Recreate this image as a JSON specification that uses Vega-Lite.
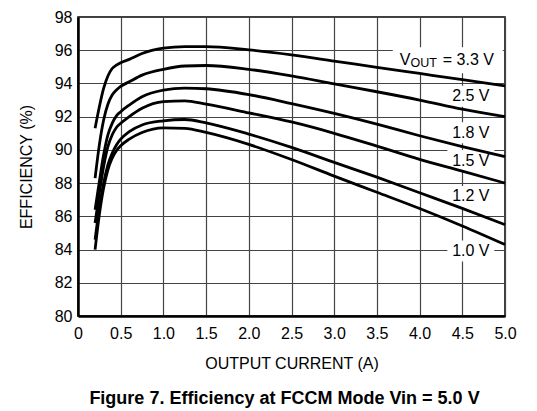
{
  "$schema": "https://vega.github.io/schema/vega-lite/v6.json",
  "description": "Efficiency vs output current, FCCM mode, Vin = 5.0 V",
  "autosize": "none",
  "width": 427,
  "height": 299,
  "padding": {"left": 78, "top": 17, "right": 32, "bottom": 95},
  "title": {
    "text": "Figure 7. Efficiency at FCCM Mode Vin = 5.0 V",
    "orient": "bottom",
    "anchor": "middle",
    "fontSize": 18,
    "fontWeight": "bold",
    "offset": 19,
    "dx": -7,
    "color": "black"
  },
  "datasets": {
    "curves": [
      {"vout": "3.3", "current": 0.2, "eff": 91.3},
      {"vout": "3.3", "current": 0.25, "eff": 92.6},
      {"vout": "3.3", "current": 0.3, "eff": 93.7},
      {"vout": "3.3", "current": 0.35, "eff": 94.45},
      {"vout": "3.3", "current": 0.4, "eff": 94.9},
      {"vout": "3.3", "current": 0.45, "eff": 95.1},
      {"vout": "3.3", "current": 0.5, "eff": 95.25},
      {"vout": "3.3", "current": 0.6, "eff": 95.45},
      {"vout": "3.3", "current": 0.75, "eff": 95.8},
      {"vout": "3.3", "current": 1.0, "eff": 96.12},
      {"vout": "3.3", "current": 1.25, "eff": 96.22},
      {"vout": "3.3", "current": 1.5, "eff": 96.22},
      {"vout": "3.3", "current": 2.0, "eff": 96.02},
      {"vout": "3.3", "current": 2.5, "eff": 95.72},
      {"vout": "3.3", "current": 3.0, "eff": 95.35},
      {"vout": "3.3", "current": 3.5, "eff": 94.97},
      {"vout": "3.3", "current": 4.0, "eff": 94.6},
      {"vout": "3.3", "current": 4.5, "eff": 94.23},
      {"vout": "3.3", "current": 5.0, "eff": 93.85},

      {"vout": "2.5", "current": 0.2, "eff": 88.3},
      {"vout": "2.5", "current": 0.25, "eff": 90.3},
      {"vout": "2.5", "current": 0.3, "eff": 91.8},
      {"vout": "2.5", "current": 0.35, "eff": 92.75},
      {"vout": "2.5", "current": 0.4, "eff": 93.3},
      {"vout": "2.5", "current": 0.45, "eff": 93.6},
      {"vout": "2.5", "current": 0.5, "eff": 93.82},
      {"vout": "2.5", "current": 0.6, "eff": 94.1},
      {"vout": "2.5", "current": 0.75, "eff": 94.5},
      {"vout": "2.5", "current": 1.0, "eff": 94.85},
      {"vout": "2.5", "current": 1.25, "eff": 95.05},
      {"vout": "2.5", "current": 1.5, "eff": 95.08},
      {"vout": "2.5", "current": 2.0, "eff": 94.85},
      {"vout": "2.5", "current": 2.5, "eff": 94.45},
      {"vout": "2.5", "current": 3.0, "eff": 93.97},
      {"vout": "2.5", "current": 3.5, "eff": 93.5},
      {"vout": "2.5", "current": 4.0, "eff": 93.0},
      {"vout": "2.5", "current": 4.5, "eff": 92.45},
      {"vout": "2.5", "current": 5.0, "eff": 92.0},

      {"vout": "1.8", "current": 0.2, "eff": 86.4},
      {"vout": "1.8", "current": 0.25, "eff": 88.1},
      {"vout": "1.8", "current": 0.3, "eff": 89.7},
      {"vout": "1.8", "current": 0.35, "eff": 90.9},
      {"vout": "1.8", "current": 0.4, "eff": 91.6},
      {"vout": "1.8", "current": 0.45, "eff": 92.05},
      {"vout": "1.8", "current": 0.5, "eff": 92.3},
      {"vout": "1.8", "current": 0.6, "eff": 92.7},
      {"vout": "1.8", "current": 0.75, "eff": 93.2},
      {"vout": "1.8", "current": 1.0, "eff": 93.6},
      {"vout": "1.8", "current": 1.25, "eff": 93.72},
      {"vout": "1.8", "current": 1.5, "eff": 93.68},
      {"vout": "1.8", "current": 2.0, "eff": 93.33},
      {"vout": "1.8", "current": 2.5, "eff": 92.79},
      {"vout": "1.8", "current": 3.0, "eff": 92.2},
      {"vout": "1.8", "current": 3.5, "eff": 91.55},
      {"vout": "1.8", "current": 4.0, "eff": 90.85},
      {"vout": "1.8", "current": 4.5, "eff": 90.2},
      {"vout": "1.8", "current": 5.0, "eff": 89.6},

      {"vout": "1.5", "current": 0.2, "eff": 85.6},
      {"vout": "1.5", "current": 0.25, "eff": 87.4},
      {"vout": "1.5", "current": 0.3, "eff": 89.0},
      {"vout": "1.5", "current": 0.35, "eff": 90.2},
      {"vout": "1.5", "current": 0.4, "eff": 90.9},
      {"vout": "1.5", "current": 0.45, "eff": 91.35},
      {"vout": "1.5", "current": 0.5, "eff": 91.6},
      {"vout": "1.5", "current": 0.6, "eff": 92.0},
      {"vout": "1.5", "current": 0.75, "eff": 92.5},
      {"vout": "1.5", "current": 1.0, "eff": 92.9},
      {"vout": "1.5", "current": 1.25, "eff": 92.95},
      {"vout": "1.5", "current": 1.5, "eff": 92.75},
      {"vout": "1.5", "current": 2.0, "eff": 92.23},
      {"vout": "1.5", "current": 2.5, "eff": 91.68},
      {"vout": "1.5", "current": 3.0, "eff": 91.0},
      {"vout": "1.5", "current": 3.5, "eff": 90.23},
      {"vout": "1.5", "current": 4.0, "eff": 89.43},
      {"vout": "1.5", "current": 4.5, "eff": 88.72},
      {"vout": "1.5", "current": 5.0, "eff": 88.0},

      {"vout": "1.2", "current": 0.2, "eff": 84.6},
      {"vout": "1.2", "current": 0.25, "eff": 86.5},
      {"vout": "1.2", "current": 0.3, "eff": 88.0},
      {"vout": "1.2", "current": 0.35, "eff": 89.1},
      {"vout": "1.2", "current": 0.4, "eff": 89.8},
      {"vout": "1.2", "current": 0.45, "eff": 90.3},
      {"vout": "1.2", "current": 0.5, "eff": 90.65},
      {"vout": "1.2", "current": 0.6, "eff": 91.1},
      {"vout": "1.2", "current": 0.75, "eff": 91.5},
      {"vout": "1.2", "current": 1.0, "eff": 91.75},
      {"vout": "1.2", "current": 1.25, "eff": 91.83},
      {"vout": "1.2", "current": 1.5, "eff": 91.63},
      {"vout": "1.2", "current": 2.0, "eff": 90.95},
      {"vout": "1.2", "current": 2.5, "eff": 90.15},
      {"vout": "1.2", "current": 3.0, "eff": 89.25},
      {"vout": "1.2", "current": 3.5, "eff": 88.36},
      {"vout": "1.2", "current": 4.0, "eff": 87.42},
      {"vout": "1.2", "current": 4.5, "eff": 86.48},
      {"vout": "1.2", "current": 5.0, "eff": 85.5},

      {"vout": "1.0", "current": 0.2, "eff": 84.0},
      {"vout": "1.0", "current": 0.25, "eff": 86.1},
      {"vout": "1.0", "current": 0.3, "eff": 87.7},
      {"vout": "1.0", "current": 0.35, "eff": 88.8},
      {"vout": "1.0", "current": 0.4, "eff": 89.5},
      {"vout": "1.0", "current": 0.45, "eff": 89.95},
      {"vout": "1.0", "current": 0.5, "eff": 90.25},
      {"vout": "1.0", "current": 0.6, "eff": 90.65},
      {"vout": "1.0", "current": 0.75, "eff": 91.05},
      {"vout": "1.0", "current": 1.0, "eff": 91.33},
      {"vout": "1.0", "current": 1.25, "eff": 91.3},
      {"vout": "1.0", "current": 1.5, "eff": 91.05},
      {"vout": "1.0", "current": 2.0, "eff": 90.33},
      {"vout": "1.0", "current": 2.5, "eff": 89.42},
      {"vout": "1.0", "current": 3.0, "eff": 88.42},
      {"vout": "1.0", "current": 3.5, "eff": 87.45},
      {"vout": "1.0", "current": 4.0, "eff": 86.47},
      {"vout": "1.0", "current": 4.5, "eff": 85.42},
      {"vout": "1.0", "current": 5.0, "eff": 84.3}
    ],
    "labels": [
      {"label": "2.5 V", "current": 4.6, "eff": 93.23},
      {"label": "1.8 V", "current": 4.6, "eff": 91.03},
      {"label": "1.5 V", "current": 4.6, "eff": 89.36},
      {"label": "1.2 V", "current": 4.6, "eff": 87.2},
      {"label": "1.0 V", "current": 4.6, "eff": 83.91}
    ],
    "voutLabel": [
      {"current": 4.33, "eff": 95.4}
    ]
  },
  "encoding": {
    "x": {
      "field": "current",
      "type": "quantitative",
      "scale": {"domain": [0, 5], "nice": false},
      "axis": {
        "title": "OUTPUT CURRENT (A)",
        "values": [0, 0.5, 1, 1.5, 2, 2.5, 3, 3.5, 4, 4.5, 5],
        "labelExpr": "datum.value == 0 ? '0' : format(datum.value, '.1f')",
        "labelFontSize": 16,
        "labelPadding": 9,
        "labelOverlap": false,
        "labelFlush": false,
        "titleFontSize": 16,
        "titlePadding": 14
      }
    },
    "y": {
      "field": "eff",
      "type": "quantitative",
      "scale": {"domain": [80, 98], "nice": false},
      "axis": {
        "title": "EFFICIENCY (%)",
        "values": [80, 82, 84, 86, 88, 90, 92, 94, 96, 98],
        "labelFontSize": 16,
        "labelPadding": 6,
        "labelOverlap": false,
        "labelFlush": false,
        "labelSeparation": 0,
        "titleFontSize": 16,
        "titlePadding": 20
      }
    }
  },
  "layer": [
    {
      "data": {"name": "labels"},
      "mark": {
        "type": "point",
        "shape": "M-1,-0.447L1,-0.447L1,0.447L-1,0.447Z",
        "size": 2209,
        "filled": true,
        "fill": "white",
        "opacity": 1,
        "strokeWidth": 0
      }
    },
    {
      "data": {"name": "voutLabel"},
      "mark": {
        "type": "point",
        "shape": "M-1,-0.236L1,-0.236L1,0.236L-1,0.236Z",
        "size": 12100,
        "filled": true,
        "fill": "white",
        "opacity": 1,
        "strokeWidth": 0
      }
    },
    {
      "data": {"name": "curves"},
      "mark": {"type": "line", "interpolate": "monotone", "color": "black", "strokeWidth": 2.8},
      "encoding": {
        "detail": {"field": "vout", "type": "nominal"}
      }
    },
    {
      "data": {"name": "labels"},
      "mark": {"type": "text", "fontSize": 16, "align": "center", "baseline": "middle", "color": "black"},
      "encoding": {
        "text": {"field": "label"}
      }
    },
    {
      "data": {"name": "voutLabel"},
      "mark": {"type": "text", "text": "V", "fontSize": 16, "align": "left", "baseline": "middle", "dx": -48, "color": "black"}
    },
    {
      "data": {"name": "voutLabel"},
      "mark": {"type": "text", "text": "OUT", "fontSize": 12.5, "align": "left", "baseline": "middle", "dx": -37.3, "dy": 2.5, "color": "black"}
    },
    {
      "data": {"name": "voutLabel"},
      "mark": {"type": "text", "text": "= 3.3 V", "fontSize": 16, "align": "left", "baseline": "middle", "dx": -5, "color": "black"}
    }
  ],
  "config": {
    "font": "Liberation Sans",
    "view": {"stroke": "black", "strokeWidth": 1.5},
    "axis": {
      "grid": true,
      "gridColor": "#444",
      "gridWidth": 1.2,
      "gridOpacity": 1,
      "ticks": false,
      "domainColor": "black",
      "domainWidth": 2.5,
      "labelColor": "black",
      "labelOverlap": false,
      "titleFontWeight": "normal",
      "titleColor": "black"
    },
    "axisY": {"labelOverlap": false}
  }
}
